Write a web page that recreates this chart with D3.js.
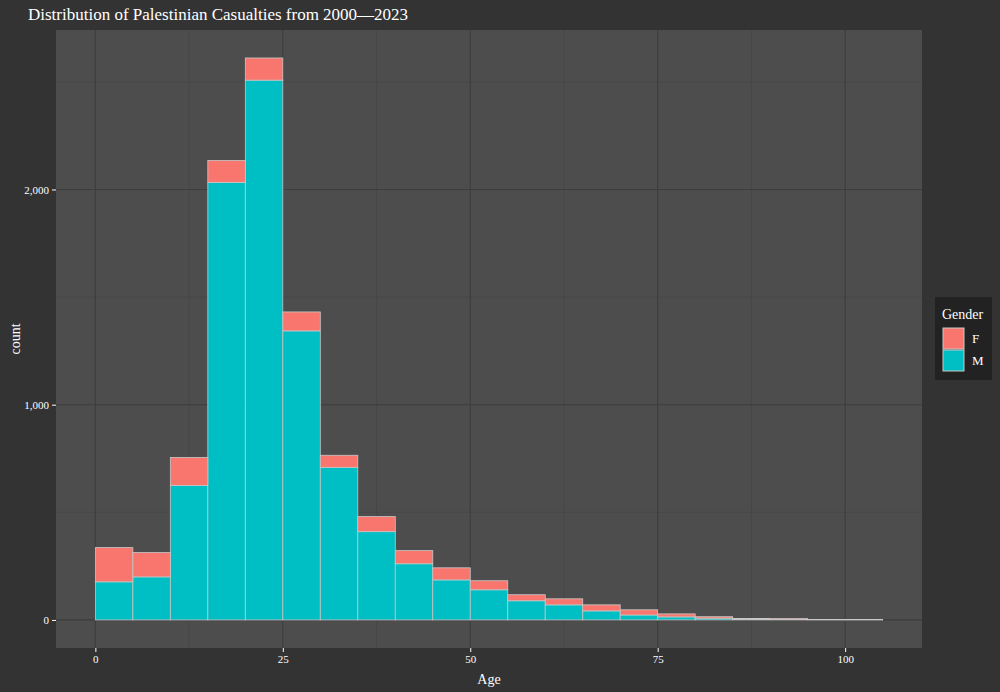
<!DOCTYPE html>
<html><head><meta charset="utf-8">
<script src="https://cdn.jsdelivr.net/npm/d3@7"></script>
<style>body{margin:0;background:#333333}</style>
</head><body>
<script>
// bins of 5 years, starting at age 0
const binStarts = [0,5,10,15,20,25,30,35,40,45,50,55,60,65,70,75,80,85,90,95,100]
const countsM = [177,200,625,2033,2508,1343,709,410,261,186,140,89,70,42,23,14,8,4,3,1,1]
const countsF = [159,113,130,102,103,88,56,70,61,56,42,28,28,28,24,14,7,3,3,1,1]
const xTicks = [0,25,50,75,100]
const yTicks = [0,1000,2000]

const W = 1000, H = 692
const m = {left: 56, right: 78, top: 30, bottom: 44}
const pw = W - m.left - m.right, ph = H - m.top - m.bottom

const svg = d3.select('body').append('svg').attr('width', W).attr('height', H)
  .style('font-family', '"Liberation Serif", serif')
svg.append('rect').attr('width', W).attr('height', H).attr('fill', '#333333')

const x = d3.scaleLinear().domain([-5.25, 110.25]).range([0, pw])
const y = d3.scaleLinear().domain([-130.5, 2741]).range([ph, 0])

const g = svg.append('g').attr('transform', `translate(${m.left},${m.top})`)
g.append('rect').attr('width', pw).attr('height', ph).attr('fill', '#4d4d4d')

// minor grid
const minorX = [12.5, 37.5, 62.5, 87.5], minorY = [500, 1500, 2500]
g.selectAll('.mx').data(minorX).enter().append('line')
  .attr('x1', d => x(d)).attr('x2', d => x(d)).attr('y1', 0).attr('y2', ph)
  .attr('stroke', '#444').attr('stroke-width', 0.6)
g.selectAll('.my').data(minorY).enter().append('line')
  .attr('y1', d => y(d)).attr('y2', d => y(d)).attr('x1', 0).attr('x2', pw)
  .attr('stroke', '#444').attr('stroke-width', 0.6)
// major grid
g.selectAll('.gx').data(xTicks).enter().append('line')
  .attr('x1', d => x(d)).attr('x2', d => x(d)).attr('y1', 0).attr('y2', ph)
  .attr('stroke', '#3d3d3d').attr('stroke-width', 1.1)
g.selectAll('.gy').data(yTicks).enter().append('line')
  .attr('y1', d => y(d)).attr('y2', d => y(d)).attr('x1', 0).attr('x2', pw)
  .attr('stroke', '#3d3d3d').attr('stroke-width', 1.1)

// stacked bars: M at bottom, F on top
const bars = binStarts.map((b, i) => ({b, m: countsM[i], f: countsF[i]}))
g.selectAll('.barM').data(bars).enter().append('rect')
  .attr('x', d => x(d.b)).attr('width', d => x(d.b + 5) - x(d.b))
  .attr('y', d => y(d.m)).attr('height', d => y(0) - y(d.m))
  .attr('fill', '#00BFC4').attr('stroke', '#c8c8c8').attr('stroke-width', 0.8)
g.selectAll('.barF').data(bars).enter().append('rect')
  .attr('x', d => x(d.b)).attr('width', d => x(d.b + 5) - x(d.b))
  .attr('y', d => y(d.m + d.f)).attr('height', d => y(d.m) - y(d.m + d.f))
  .attr('fill', '#F8766D').attr('stroke', '#c8c8c8').attr('stroke-width', 0.8)

// axes
const xa = g.append('g').attr('transform', `translate(0,${ph})`)
  .call(d3.axisBottom(x).tickValues(xTicks).tickSize(4).tickPadding(3))
const ya = g.append('g')
  .call(d3.axisLeft(y).tickValues(yTicks).tickSize(4).tickPadding(3))
;[xa, ya].forEach(a => {
  a.select('.domain').remove()
  a.selectAll('line').attr('stroke', '#fff')
  a.selectAll('text').attr('fill', '#fff').style('font-size', '11px').style('font-family', '"Liberation Serif", serif')
})

svg.append('text').attr('x', m.left + pw / 2).attr('y', H - 8).attr('text-anchor', 'middle')
  .attr('fill', '#fff').style('font-size', '14px').text('Age')
svg.append('text').attr('transform', `translate(20,${m.top + ph / 2}) rotate(-90)`)
  .attr('text-anchor', 'middle').attr('fill', '#fff').style('font-size', '14px').text('count')
svg.append('text').attr('x', 28).attr('y', 20).attr('fill', '#fff')
  .style('font-size', '17px').text('Distribution of Palestinian Casualties from 2000\u20142023')

// legend
const lg = svg.append('g').attr('transform', 'translate(935,297)')
lg.append('rect').attr('width', 57).attr('height', 83).attr('fill', '#222')
lg.append('text').attr('x', 7).attr('y', 22).attr('fill', '#fff').style('font-size', '14px').text('Gender')
const keys = [{k: 'F', c: '#F8766D'}, {k: 'M', c: '#00BFC4'}]
keys.forEach((d, i) => {
  lg.append('rect').attr('x', 8).attr('y', 31 + i * 22).attr('width', 21).attr('height', 21)
    .attr('fill', d.c).attr('stroke', '#c8c8c8').attr('stroke-width', 1)
  lg.append('text').attr('x', 37).attr('y', 46 + i * 22).attr('fill', '#fff').style('font-size', '13px').text(d.k)
})
</script>
</body></html>
